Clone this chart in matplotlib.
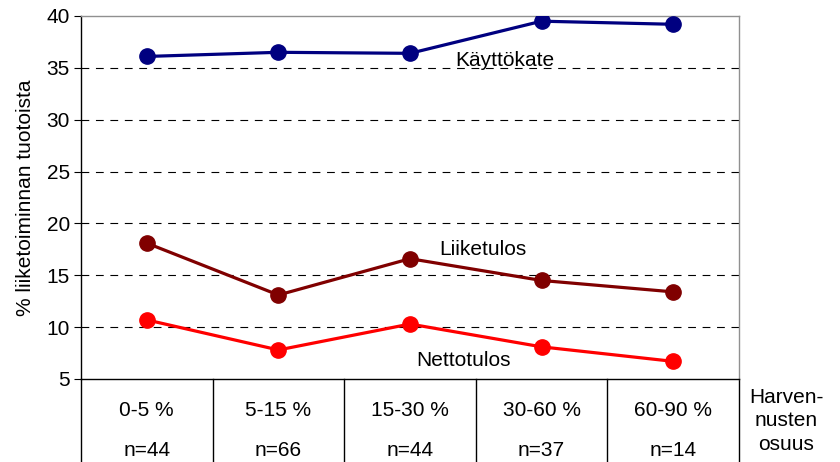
import matplotlib
matplotlib.use("Agg")
import matplotlib.pyplot as plt
import matplotlib.transforms as mtransforms

plt.rcParams["font.family"] = ["Liberation Sans", "DejaVu Sans"]

categories = ["0-5 %", "5-15 %", "15-30 %", "30-60 %", "60-90 %"]
counts = ["n=44", "n=66", "n=44", "n=37", "n=14"]
kayttokate = [36.1, 36.5, 36.4, 39.5, 39.2]
liiketulos = [18.1, 13.1, 16.6, 14.5, 13.4]
nettotulos = [10.7, 7.8, 10.3, 8.1, 6.7]

fig = plt.figure(figsize=(8.4, 4.62), dpi=100)
ax = fig.add_axes([81 / 840, 83 / 462, 658 / 840, 363 / 462])

x = list(range(len(categories)))
fs = 15
ax.plot(x, kayttokate, color="#000080", lw=2.3, marker="o", ms=11, zorder=3)
ax.plot(x, liiketulos, color="#800000", lw=2.3, marker="o", ms=11, zorder=3)
ax.plot(x, nettotulos, color="#FF0000", lw=2.3, marker="o", ms=11, zorder=3)

ax.text(2.72, 35.7, "Käyttökate", fontsize=fs, ha="center", va="center")
ax.text(2.55, 17.5, "Liiketulos", fontsize=fs, ha="center", va="center")
ax.text(2.41, 6.8, "Nettotulos", fontsize=fs, ha="center", va="center")

ax.set_xlim(-0.5, 4.5)
ax.set_ylim(5, 40)
ax.set_yticks(range(5, 41, 5))
ax.tick_params(axis="y", labelsize=fs, length=5, direction="out", pad=3)
ax.set_xticks([])
for yv in range(10, 40, 5):
    ax.axhline(yv, color="black", lw=0.8, ls=(0, (7, 6)), zorder=1)

ax.spines["left"].set_color("black")
ax.spines["bottom"].set_color("black")
ax.spines["top"].set_color("#909090")
ax.spines["right"].set_color("#909090")
for s in ax.spines.values():
    s.set_linewidth(1.0)

ax.set_ylabel("% liiketoiminnan tuotoista", fontsize=fs, labelpad=8)

# category table below the axis
trans = mtransforms.blended_transform_factory(ax.transData, ax.transAxes)
bottom = -83 / 363
for i in range(len(categories) + 1):
    ax.plot([i - 0.5, i - 0.5], [0, bottom], color="black", lw=1.0,
            transform=trans, clip_on=False)
for i, (c, n) in enumerate(zip(categories, counts)):
    ax.text(i, -31 / 363, c, fontsize=fs, ha="center", va="center",
            transform=trans)
    ax.text(i, -72 / 363, n, fontsize=fs, ha="center", va="center",
            transform=trans)

fig.text(786 / 840, (462 - 421) / 462, "Harven-\nnusten\nosuus", fontsize=fs,
         ha="center", va="center", linespacing=1.28)

fig.savefig("out.png", dpi=100)
